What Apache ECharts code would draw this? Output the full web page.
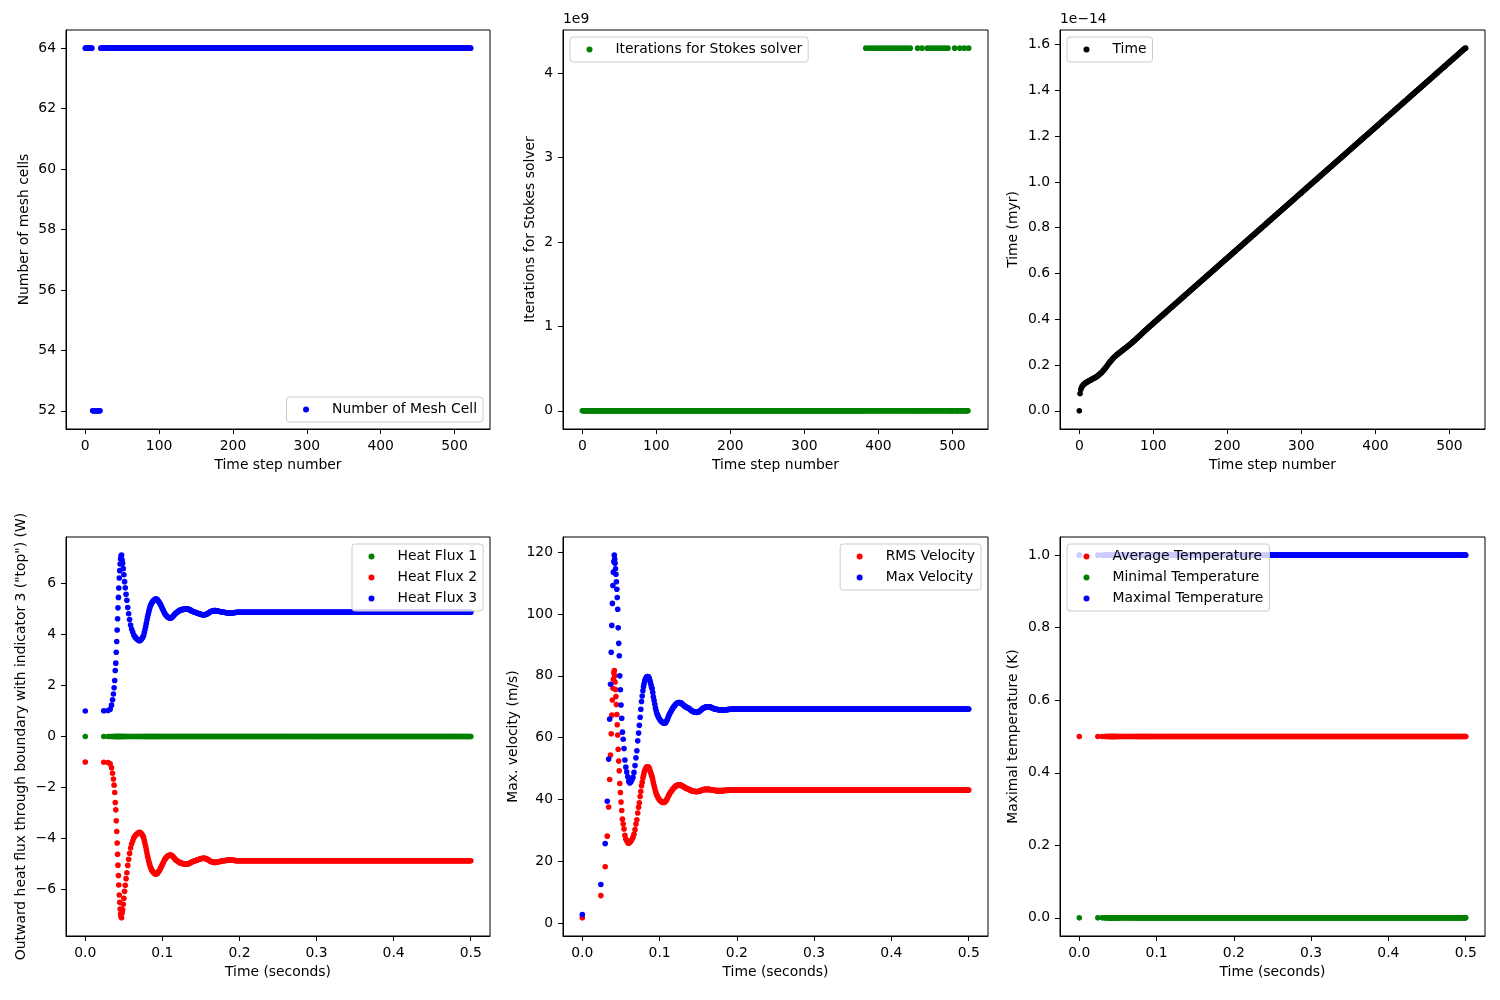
<!DOCTYPE html>
<html><head><meta charset="utf-8">
<script src="https://cdn.jsdelivr.net/npm/echarts@6/dist/echarts.min.js"></script>
<style>html,body{margin:0;padding:0;background:#fff}#chart{width:1500px;height:1000px}</style>
</head><body><div id="chart"></div>
<script>
// ---------------- DATA ----------------
// simulation time of each time step, in milliseconds (step number = index)
const timeMs = [
0, 24.0, 29.6, 32.3, 34.1, 35.4, 36.5, 37.4, 38.2, 38.9,
39.6, 40.2, 40.8, 41.4, 41.9, 42.4, 43.0, 43.5, 44.1, 44.7,
45.2, 45.8, 46.4, 47.1, 47.8, 48.5, 49.3, 50.1, 51.0, 51.9,
52.9, 54.0, 55.1, 56.3, 57.5, 58.8, 60.1, 61.5, 62.9, 64.2,
65.6, 66.9, 68.2, 69.4, 70.6, 71.7, 72.8, 73.8, 74.8, 75.7,
76.6, 77.5, 78.4, 79.2, 80.0, 80.8, 81.6, 82.4, 83.2, 84.0,
84.8, 85.6, 86.4, 87.2, 88.0, 88.8, 89.6, 90.4, 91.2, 92.0,
92.9, 93.8, 94.7, 95.6, 96.5, 97.4, 98.3, 99.3, 100.2, 101.2,
102.1, 103.1, 104.0, 105.0, 106.0, 106.9, 107.9, 108.9, 109.8, 110.8,
111.7, 112.6, 113.6, 114.5,
115.4,116.3,117.2,118.1,119.0,119.9,120.8,121.7,122.6,123.5,
124.4,125.3,126.2,127.1,128.0,128.9,129.8,130.7,131.6,132.5,
133.4,134.3,135.2,136.1,137.0,137.9,138.8,139.7,140.6,141.5,
142.4,143.3,144.2,145.1,146.0,146.9,147.8,148.7,149.6,150.5,
151.4,152.3,153.2,154.1,155.0,155.9,156.8,157.7,158.6,159.5,
160.4,161.3,162.2,163.1,164.0,164.9,165.8,166.7,167.6,168.5,
169.4,170.3,171.2,172.1,173.0,173.9,174.8,175.7,176.6,177.5,
178.4,179.3,180.2,181.1,182.0,182.9,183.8,184.7,185.6,186.5,
187.4,188.3,189.2,190.1,191.0,191.9,192.8,193.7,194.6,195.5,
196.4,197.3,198.2,199.1,200.0,200.9,201.8,202.7,203.6,204.5,
205.4,206.3,207.2,208.1,209.0,209.9,210.8,211.7,212.6,213.5,
214.4,215.3,216.2,217.1,218.0,218.9,219.8,220.7,221.6,222.5,
223.4,224.3,225.2,226.1,227.0,227.9,228.8,229.7,230.6,231.5,
232.4,233.3,234.2,235.1,236.0,236.9,237.8,238.7,239.6,240.5,
241.4,242.3,243.2,244.1,245.0,245.9,246.8,247.7,248.6,249.5,
250.4,251.3,252.2,253.1,254.0,254.9,255.8,256.7,257.6,258.5,
259.4,260.3,261.2,262.1,263.0,263.9,264.8,265.7,266.6,267.5,
268.4,269.3,270.2,271.1,272.0,272.9,273.8,274.7,275.6,276.5,
277.4,278.3,279.2,280.1,281.0,281.9,282.8,283.7,284.6,285.5,
286.4,287.3,288.2,289.1,290.0,290.9,291.8,292.7,293.6,294.5,
295.4,296.3,297.2,298.1,299.0,299.9,300.8,301.7,302.6,303.5,
304.4,305.3,306.2,307.1,308.0,308.9,309.8,310.7,311.6,312.5,
313.4,314.3,315.2,316.1,317.0,317.9,318.8,319.7,320.6,321.5,
322.4,323.3,324.2,325.1,326.0,326.9,327.8,328.7,329.6,330.5,
331.4,332.3,333.2,334.1,335.0,335.9,336.8,337.7,338.6,339.5,
340.4,341.3,342.2,343.1,344.0,344.9,345.8,346.7,347.6,348.5,
349.4,350.3,351.2,352.1,353.0,353.9,354.8,355.7,356.6,357.5,
358.4,359.3,360.2,361.1,362.0,362.9,363.8,364.7,365.6,366.5,
367.4,368.3,369.2,370.1,371.0,371.9,372.8,373.7,374.6,375.5,
376.4,377.3,378.2,379.1,380.0,380.9,381.8,382.7,383.6,384.5,
385.4,386.3,387.2,388.1,389.0,389.9,390.8,391.7,392.6,393.5,
394.4,395.3,396.2,397.1,398.0,398.9,399.8,400.7,401.6,402.5,
403.4,404.3,405.2,406.1,407.0,407.9,408.8,409.7,410.6,411.5,
412.4,413.3,414.2,415.1,416.0,416.9,417.8,418.7,419.6,420.5,
421.4,422.3,423.2,424.1,425.0,425.9,426.8,427.7,428.6,429.5,
430.4,431.3,432.2,433.1,434.0,434.9,435.8,436.7,437.6,438.5,
439.4,440.3,441.2,442.1,443.0,443.9,444.8,445.7,446.6,447.5,
448.4,449.3,450.2,451.1,452.0,452.9,453.8,454.7,455.6,456.5,
457.4,458.3,459.2,460.1,461.0,461.9,462.8,463.7,464.6,465.5,
466.4,467.3,468.2,469.1,470.0,470.9,471.8,472.7,473.6,474.5,
475.4,476.3,477.2,478.1,479.0,479.9,480.8,481.7,482.6,483.5,
484.4,485.3,486.2,487.1,488.0,488.9,489.8,490.7,491.6,492.5,
493.4,494.3,495.2,496.1,497.0,497.9,498.8,499.7,500.0
];

// number of mesh cells as runs: [cells, number of consecutive steps]
const meshCellRuns = [[64, 10], [52, 11], [64, 502]];

// Stokes iterations: 0 except at these steps, where the count is 2^32-1
const stokesOverflowValue = 4294967295;
const stokesOverflowSteps = [383, 387, 391, 395, 399, 403, 407, 411, 415, 419, 423, 427, 431, 435, 439, 443,
  453, 459, 466, 470, 474, 478, 482, 486, 490, 494, 503, 510, 516, 522];

// Heat flux 3 (W), early steps; afterwards it stays at heatFlux3Steady
const heatFlux3Early = [
1.0, 1.01, 1.02, 1.07, 1.23, 1.44, 1.67, 1.91, 2.2, 2.59,
2.88, 3.31, 3.73, 4.18, 4.62, 5.05, 5.46, 5.83, 6.22, 6.51,
6.77, 6.97, 7.08, 7.12, 6.93, 6.8, 6.59, 6.35, 6.08, 5.84,
5.58, 5.35, 5.06, 4.82, 4.59, 4.38, 4.22, 4.1, 3.98, 3.92,
3.87, 3.83, 3.8, 3.77, 3.76, 3.78, 3.82, 3.86, 3.91, 3.97,
4.08, 4.2, 4.32, 4.44, 4.57, 4.69, 4.8, 4.9, 5.0, 5.08,
5.15, 5.2, 5.25, 5.29, 5.32, 5.34, 5.37, 5.39, 5.4, 5.4,
5.39, 5.36, 5.32, 5.28, 5.24, 5.19, 5.13, 5.07, 5.01, 4.95,
4.89, 4.83, 4.79, 4.75, 4.72, 4.69, 4.67, 4.66, 4.65, 4.65,
4.66, 4.68, 4.71, 4.74, 4.78, 4.81, 4.84, 4.86, 4.88, 4.9,
4.92, 4.94, 4.95, 4.96, 4.97, 4.98, 4.99, 4.99, 5.0, 5.0,
5.0, 5.0, 5.0, 5.0, 5.0, 4.99, 4.98, 4.97, 4.95, 4.93,
4.92, 4.91, 4.9, 4.89, 4.88, 4.87, 4.86, 4.85, 4.84, 4.83,
4.82, 4.81, 4.8, 4.79, 4.79, 4.78, 4.78, 4.78, 4.78, 4.79,
4.8, 4.81, 4.82, 4.84, 4.86, 4.88, 4.9, 4.91, 4.92, 4.93,
4.93, 4.94, 4.94, 4.94, 4.94, 4.93, 4.93, 4.92, 4.92, 4.91,
4.91, 4.9, 4.9, 4.89, 4.89, 4.88, 4.88, 4.87, 4.87, 4.86,
4.86, 4.86, 4.85, 4.85, 4.85, 4.85, 4.85, 4.85, 4.86, 4.86,
4.86, 4.87, 4.87, 4.87
];
const heatFlux3Steady = 4.88;

// Heat flux 2 (W), early steps (mirror of heat flux 3)
const heatFlux2Early = [
-1.0, -1.01, -1.02, -1.07, -1.23, -1.44, -1.67, -1.91, -2.2, -2.59,
-2.88, -3.31, -3.73, -4.18, -4.62, -5.05, -5.46, -5.83, -6.22, -6.51,
-6.77, -6.97, -7.08, -7.12, -6.93, -6.8, -6.59, -6.35, -6.08, -5.84,
-5.58, -5.35, -5.06, -4.82, -4.59, -4.38, -4.22, -4.1, -3.98, -3.92,
-3.87, -3.83, -3.8, -3.77, -3.76, -3.78, -3.82, -3.86, -3.91, -3.97,
-4.08, -4.2, -4.32, -4.44, -4.57, -4.69, -4.8, -4.9, -5.0, -5.08,
-5.15, -5.2, -5.25, -5.29, -5.32, -5.34, -5.37, -5.39, -5.4, -5.4,
-5.39, -5.36, -5.32, -5.28, -5.24, -5.19, -5.13, -5.07, -5.01, -4.95,
-4.89, -4.83, -4.79, -4.75, -4.72, -4.69, -4.67, -4.66, -4.65, -4.65,
-4.66, -4.68, -4.71, -4.74, -4.78, -4.81, -4.84, -4.86, -4.88, -4.9,
-4.92, -4.94, -4.95, -4.96, -4.97, -4.98, -4.99, -4.99, -5.0, -5.0,
-5.0, -5.0, -5.0, -5.0, -5.0, -4.99, -4.98, -4.97, -4.95, -4.93,
-4.92, -4.91, -4.9, -4.89, -4.88, -4.87, -4.86, -4.85, -4.84, -4.83,
-4.82, -4.81, -4.8, -4.79, -4.79, -4.78, -4.78, -4.78, -4.78, -4.79,
-4.8, -4.81, -4.82, -4.84, -4.86, -4.88, -4.9, -4.91, -4.92, -4.93,
-4.93, -4.94, -4.94, -4.94, -4.94, -4.93, -4.93, -4.92, -4.92, -4.91,
-4.91, -4.9, -4.9, -4.89, -4.89, -4.88, -4.88, -4.87, -4.87, -4.86,
-4.86, -4.86, -4.85, -4.85, -4.85, -4.85, -4.85, -4.85, -4.86, -4.86,
-4.86, -4.87, -4.87, -4.87
];
const heatFlux2Steady = -4.88;
const heatFlux1Steady = 0;

// Max velocity (m/s), early steps
const maxVelocityEarly = [
2.9, 12.6, 25.8, 39.5, 53.1, 66.0, 77.3, 87.6, 96.3, 103.4,
109.2, 113.5, 116.9, 119.0, 117.7, 116.4, 114.6, 112.8, 110.4, 108.0,
105.3, 101.5, 95.5, 90.5, 86.5, 80.0, 75.5, 70.6, 66.3, 61.8,
59.5, 56.5, 52.8, 50.5, 48.9, 47.4, 45.9, 45.4, 45.8, 46.4,
47.2, 48.8, 51.0, 53.5, 55.8, 59.0, 61.5, 64.0, 66.6, 69.2,
71.7, 73.5, 75.2, 76.5, 77.5, 78.3, 79.0, 79.3, 79.6, 79.8,
79.8, 79.7, 79.3, 78.7, 78.0, 77.2, 76.3, 75.8, 74.6, 73.2,
72.0, 70.8, 69.6, 68.6, 67.8, 67.3, 66.8, 66.3, 65.9, 65.6,
65.3, 65.1, 64.9, 64.8, 64.7, 64.7, 64.9, 65.3, 65.8, 66.4,
67.0, 67.5, 68.0, 68.4, 68.8, 69.2, 69.6, 69.9, 70.2, 70.5,
70.8, 71.0, 71.2, 71.3, 71.4, 71.4, 71.4, 71.3, 71.2, 71.0,
70.8, 70.6, 70.4, 70.2, 70.0, 69.9, 69.8, 69.7, 69.6, 69.5,
69.3, 69.1, 68.9, 68.7, 68.6, 68.5, 68.4, 68.3, 68.3, 68.2,
68.2, 68.2, 68.3, 68.4, 68.5, 68.7, 68.9, 69.1, 69.3, 69.5,
69.6, 69.7, 69.8, 69.9, 70.0, 70.0, 70.0, 70.0, 70.0, 69.9,
69.9, 69.8, 69.7, 69.6, 69.5, 69.4, 69.3, 69.3, 69.2, 69.2,
69.1, 69.1, 69.0, 69.0, 69.0, 69.0, 69.0, 69.0, 69.0, 69.0,
69.0, 69.0, 69.0, 69.0, 69.1, 69.1, 69.1, 69.2, 69.2, 69.2,
69.2, 69.3, 69.3, 69.3
];
const maxVelocitySteady = 69.3;

// RMS velocity (m/s), early steps
const rmsVelocityEarly = [
1.8, 9.0, 18.3, 28.2, 37.6, 46.5, 54.4, 61.3, 67.3, 72.2,
76.0, 78.9, 80.9, 81.7, 80.0, 78.0, 75.6, 73.3, 70.7, 67.5,
64.2, 60.9, 56.3, 52.5, 49.3, 45.2, 42.3, 39.2, 36.5, 33.7,
32.1, 30.5, 28.5, 27.3, 26.7, 26.1, 25.9, 26.2, 26.6, 27.1,
27.8, 28.8, 30.3, 32.1, 33.5, 35.7, 37.5, 39.0, 41.0, 42.6,
44.5, 45.6, 47.0, 47.8, 48.8, 49.3, 49.8, 50.2, 50.5, 50.6,
50.6, 50.5, 50.2, 49.7, 49.1, 48.5, 47.8, 47.3, 46.4, 45.4,
44.5, 43.6, 42.7, 42.0, 41.4, 40.9, 40.5, 40.1, 39.8, 39.6,
39.4, 39.3, 39.1, 39.1, 39.1, 39.3, 39.5, 39.9, 40.3, 40.8,
41.3, 41.7, 42.2, 42.5, 42.8, 43.1, 43.4, 43.7, 43.9, 44.2,
44.4, 44.5, 44.6, 44.7, 44.8, 44.8, 44.8, 44.7, 44.6, 44.5,
44.4, 44.2, 44.1, 44.0, 43.8, 43.7, 43.6, 43.5, 43.4, 43.3,
43.2, 43.1, 43.0, 42.9, 42.8, 42.8, 42.7, 42.7, 42.6, 42.6,
42.6, 42.6, 42.6, 42.7, 42.7, 42.8, 42.9, 43.0, 43.1, 43.2,
43.2, 43.3, 43.3, 43.3, 43.3, 43.3, 43.3, 43.3, 43.3, 43.3,
43.2, 43.2, 43.2, 43.1, 43.1, 43.0, 43.0, 43.0, 42.9, 42.9,
42.9, 42.9, 42.9, 42.9, 42.9, 42.9, 42.9, 42.9, 42.9, 42.9,
43.0, 43.0, 43.0, 43.0, 43.0, 43.0, 43.1, 43.1, 43.1, 43.1
];
const rmsVelocitySteady = 43.1;

// Temperatures (K): constant over the whole run
const averageTemperatureSteady = 0.5;
const minimalTemperatureSteady = 0.0;
const maximalTemperatureSteady = 1.0;

// tick values
const stepTicks = [0, 100, 200, 300, 400, 500];
const meshTicks = [52, 54, 56, 58, 60, 62, 64];
const stokesTicks = [0, 1e9, 2e9, 3e9, 4e9];
const timeMyrTicks = [0, 0.2e-14, 0.4e-14, 0.6e-14, 0.8e-14, 1.0e-14, 1.2e-14, 1.4e-14, 1.6e-14];
const secondsTicks = [0, 0.1, 0.2, 0.3, 0.4, 0.5];
const heatFluxTicks = [-6, -4, -2, 0, 2, 4, 6];
const velocityTicks = [0, 20, 40, 60, 80, 100, 120];
const temperatureTicks = [0, 0.2, 0.4, 0.6, 0.8, 1.0];

const SECONDS_PER_MYR = 3.15576e13;

// ---------------- BUILD ----------------
const N = timeMs.length;
const steps = timeMs.map((_, k) => k);
const timeSec = timeMs.map(v => v / 1000);
const timeMyr = timeSec.map(v => v / SECONDS_PER_MYR);
function withSteady(early, steady) {
  const out = early.slice();
  while (out.length < N) out.push(steady);
  return out;
}
const meshCells = [];
meshCellRuns.forEach(([v, n]) => { for (let i = 0; i < n; i++) meshCells.push(v); });
const stokesIterations = steps.map(k => stokesOverflowSteps.includes(k) ? stokesOverflowValue : 0);
const heatFlux1 = withSteady([], heatFlux1Steady);
const heatFlux2 = withSteady(heatFlux2Early, heatFlux2Steady);
const heatFlux3 = withSteady(heatFlux3Early, heatFlux3Steady);
const rmsVelocity = withSteady(rmsVelocityEarly, rmsVelocitySteady);
const maxVelocity = withSteady(maxVelocityEarly, maxVelocitySteady);
const avgTemp = withSteady([], averageTemperatureSteady);
const minTemp = withSteady([], minimalTemperatureSteady);
const maxTemp = withSteady([], maximalTemperatureSteady);

const FONT = 'DejaVu Sans';
const FS = 13.9;
const BLUE = '#0000ff', GREEN = '#008000', RED = '#ff0000', BLACK = '#000000';

function pad(arrays) {
  let lo = Infinity, hi = -Infinity;
  arrays.forEach(a => a.forEach(v => { if (v < lo) lo = v; if (v > hi) hi = v; }));
  const m = (hi - lo) * 0.05;
  return [lo - m, hi + m];
}
const minus = s => String(s).replace('-', '\u2212');

const grids = [
  { left: 66, top: 30, width: 424, height: 399 },
  { left: 563, top: 30, width: 425, height: 399 },
  { left: 1060, top: 30, width: 425, height: 399 },
  { left: 66, top: 537, width: 424, height: 399 },
  { left: 563, top: 537, width: 425, height: 399 },
  { left: 1060, top: 537, width: 425, height: 399 }
].map(g => Object.assign({ show: true, borderColor: '#000', borderWidth: 1, backgroundColor: '#fff', containLabel: false }, g));

function axis(gi, range, ticks, fmt, name, gap, isX) {
  return {
    type: 'value', gridIndex: gi, min: range[0], max: range[1],
    position: isX ? 'bottom' : 'left',
    name: name, nameLocation: 'middle', nameGap: gap,
    nameTextStyle: { fontFamily: FONT, fontSize: FS, color: '#000' },
    axisLine: { show: true, onZero: false, lineStyle: { color: '#000', width: 1 } },
    axisTick: { show: true, inside: false, length: 5, lineStyle: { color: '#000', width: 1 }, customValues: ticks },
    axisLabel: { show: true, margin: 10, fontFamily: FONT, fontSize: FS, color: '#000', customValues: ticks, formatter: fmt },
    splitLine: { show: false }
  };
}

const stepRange = pad([steps]);
const secRange = pad([timeSec]);
const fmtInt = v => minus(Math.round(v));
const fmt1 = v => minus((Math.round(v * 10) / 10).toFixed(1));

const xAxes = [
  axis(0, stepRange, stepTicks, fmtInt, 'Time step number', 29, true),
  axis(1, stepRange, stepTicks, fmtInt, 'Time step number', 29, true),
  axis(2, stepRange, stepTicks, fmtInt, 'Time step number', 29, true),
  axis(3, secRange, secondsTicks, fmt1, 'Time (seconds)', 29, true),
  axis(4, secRange, secondsTicks, fmt1, 'Time (seconds)', 29, true),
  axis(5, secRange, secondsTicks, fmt1, 'Time (seconds)', 29, true)
];
const yAxes = [
  axis(0, pad([meshCells]), meshTicks, fmtInt, 'Number of mesh cells', 35, false),
  axis(1, pad([stokesIterations]), stokesTicks, v => String(Math.round(v / 1e9)), 'Iterations for Stokes solver', 26, false),
  axis(2, pad([timeMyr]), timeMyrTicks, v => (v * 1e14).toFixed(1), 'Time (myr)', 40, false),
  axis(3, pad([heatFlux1, heatFlux2, heatFlux3]), heatFluxTicks, fmtInt, 'Outward heat flux through boundary with indicator 3 ("top") (W)', 38, false),
  axis(4, pad([rmsVelocity, maxVelocity]), velocityTicks, fmtInt, 'Max. velocity (m/s)', 43, false),
  axis(5, pad([avgTemp, minTemp, maxTemp]), temperatureTicks, fmt1, 'Maximal temperature (K)', 40, false)
];

function sc(name, gi, xs, ys, color) {
  return {
    type: 'scatter', name: name, xAxisIndex: gi, yAxisIndex: gi,
    data: xs.map((x, i) => [x, ys[i]]),
    symbol: 'circle', symbolSize: 5.6,
    itemStyle: { color: color, opacity: 1 },
    emphasis: { disabled: true }, silent: true, animation: false
  };
}
const series = [
  sc('Number of Mesh Cell', 0, steps, meshCells, BLUE),
  sc('Iterations for Stokes solver', 1, steps, stokesIterations, GREEN),
  sc('Time', 2, steps, timeMyr, BLACK),
  sc('Heat Flux 1', 3, timeSec, heatFlux1, GREEN),
  sc('Heat Flux 2', 3, timeSec, heatFlux2, RED),
  sc('Heat Flux 3', 3, timeSec, heatFlux3, BLUE),
  sc('RMS Velocity', 4, timeSec, rmsVelocity, RED),
  sc('Max Velocity', 4, timeSec, maxVelocity, BLUE),
  sc('Average Temperature', 5, timeSec, avgTemp, RED),
  sc('Minimal Temperature', 5, timeSec, minTemp, GREEN),
  sc('Maximal Temperature', 5, timeSec, maxTemp, BLUE)
];

function legend(names, pos) {
  return Object.assign({
    data: names.map(n => ({ name: n, icon: 'circle' })),
    orient: 'vertical', itemWidth: 6, itemHeight: 6, itemGap: 7,
    padding: [5.5, 6, 5.5, 16.5],
    backgroundColor: 'rgba(255,255,255,0.8)', borderColor: '#cccccc', borderWidth: 1, borderRadius: 3,
    textStyle: { fontFamily: FONT, fontSize: FS, color: '#000', lineHeight: 14, padding: [0, 0, 0, 18] },
    selectedMode: false, z: 10
  }, pos);
}
const legends = [
  legend(['Number of Mesh Cell'], { right: 1017, bottom: 578 }),
  legend(['Iterations for Stokes solver'], { left: 570, top: 37 }),
  legend(['Time'], { left: 1067, top: 37 }),
  legend(['Heat Flux 1', 'Heat Flux 2', 'Heat Flux 3'], { right: 1017, top: 544 }),
  legend(['RMS Velocity', 'Max Velocity'], { right: 519, top: 544 }),
  legend(['Average Temperature', 'Minimal Temperature', 'Maximal Temperature'], { left: 1067, top: 544 })
];

const chart = echarts.init(document.getElementById('chart'), null, { renderer: 'canvas' });
chart.setOption({
  animation: false,
  backgroundColor: '#ffffff',
  grid: grids,
  xAxis: xAxes,
  yAxis: yAxes,
  legend: legends,
  series: series,
  graphic: [
    { type: 'text', left: 563, top: 12, style: { text: '1e9', font: '13.9px "DejaVu Sans"', fill: '#000' } },
    { type: 'text', left: 1060, top: 12, style: { text: '1e\u221214', font: '13.9px "DejaVu Sans"', fill: '#000' } }
  ]
});
</script>
</body></html>
